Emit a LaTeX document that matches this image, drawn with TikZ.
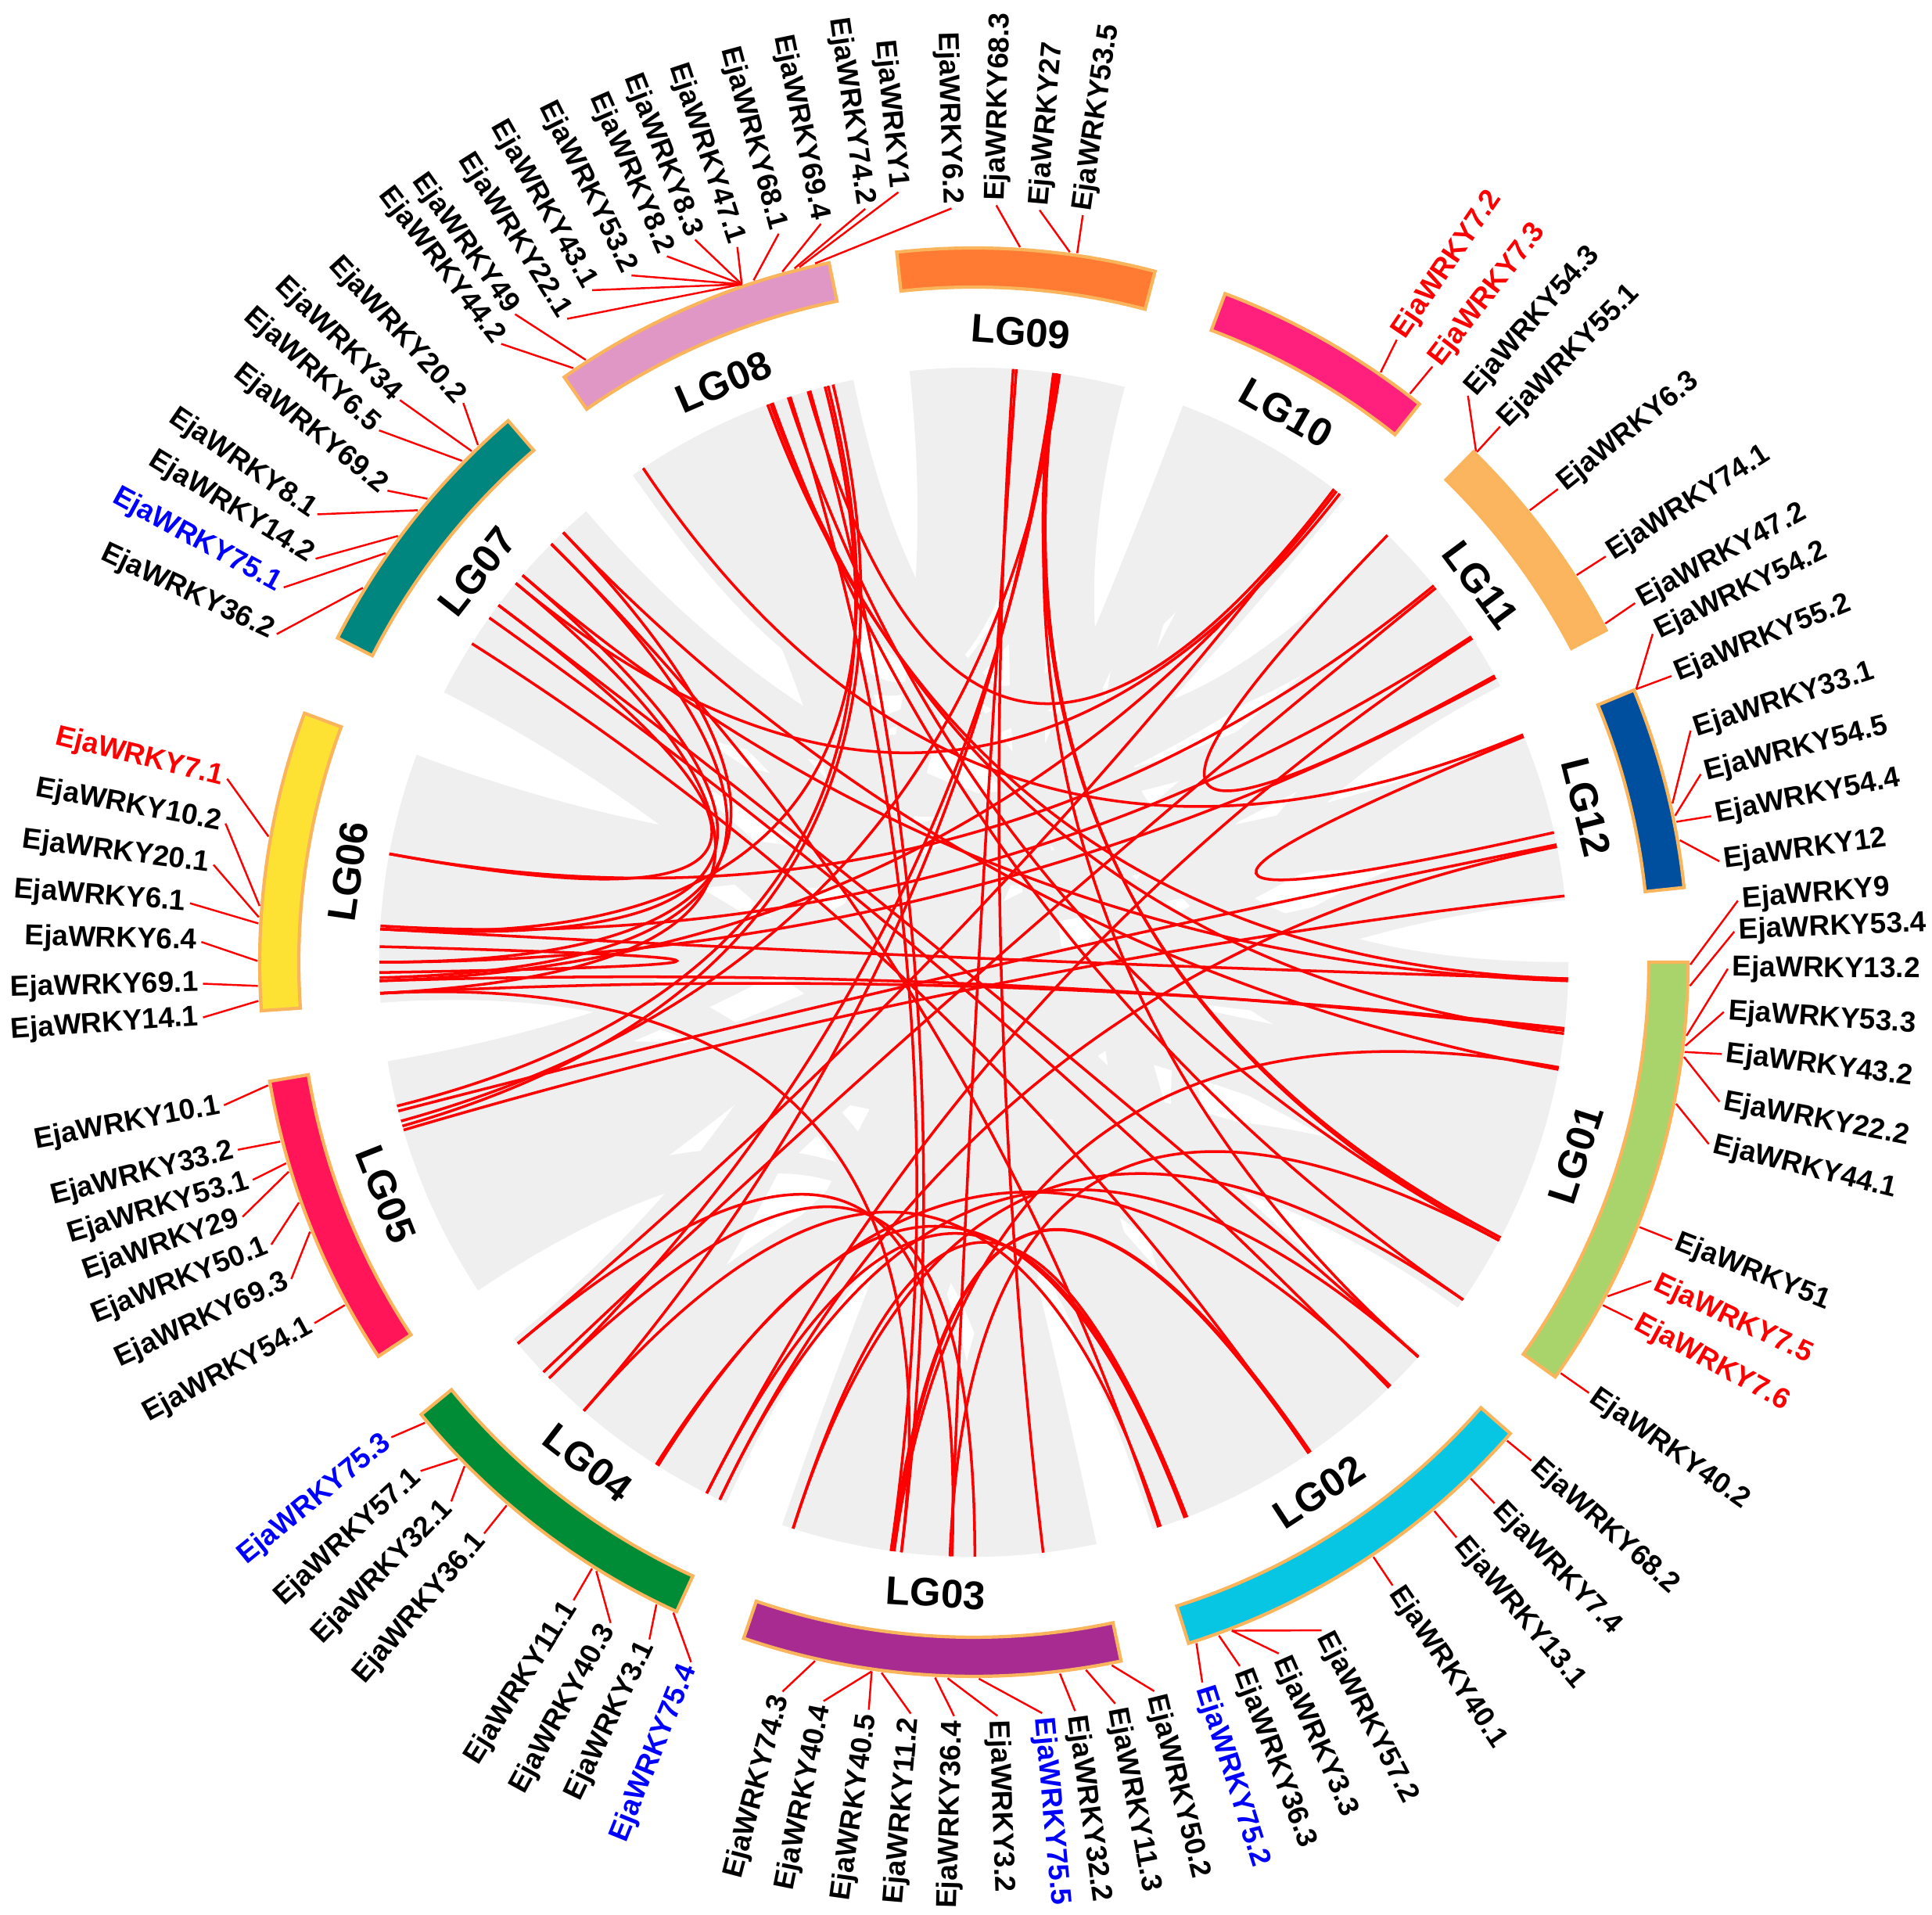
\documentclass[tikz,border=0pt]{standalone}
\usepackage{fontspec}
\setmainfont{Liberation Sans}
\definecolor{rim}{HTML}{FAB45C}
\definecolor{ribbongray}{HTML}{EFEFEF}
\definecolor{cLGa}{HTML}{A9D46B}
\definecolor{cLGb}{HTML}{06C6E3}
\definecolor{cLGc}{HTML}{A72B90}
\definecolor{cLGd}{HTML}{008C36}
\definecolor{cLGe}{HTML}{FF1558}
\definecolor{cLGf}{HTML}{FDE234}
\definecolor{cLGg}{HTML}{00857F}
\definecolor{cLGh}{HTML}{E197C5}
\definecolor{cLGi}{HTML}{FF7A32}
\definecolor{cLGj}{HTML}{FF1F7D}
\definecolor{cLGk}{HTML}{FBB55E}
\definecolor{cLGl}{HTML}{004F9F}
\tikzset{
  chrom/.style={draw=rim, line width=1.2pt},
  ribbon/.style={fill=ribbongray},
  link/.style={draw=red, line width=1pt},
  conn/.style={draw=red, line width=0.7pt},
  genetext/.style={font=\fontsize{10.5}{12}\selectfont\bfseries, inner sep=1.5pt},
  lgtext/.style={font=\fontsize{14.5}{16}\selectfont\bfseries}
}
\begin{document}
\begin{tikzpicture}
\useasboundingbox (0,0) rectangle (24.70,24.48);
\begin{scope}[shift={(12.45,12.18)}]
% grey ribbons
\foreach \pa/\pb/\qa/\qb in {-35.5/-26.6/195.6/201.6, -26.6/-17.8/141.9/147.4, -17.8/-8.9/101.7/107.5,
  -8.9/0/171.8/177.8, -72.5/-64.7/80.5/85.8, -64.7/-56.9/159.6/165.7, -56.9/-49.1/27.7/32.2,
  -49.1/-41.3/130.7/136.3, -108.8/-101.1/55.9/60.4, -101.1/-93.5/113.4/119.2, -93.5/-85.8/10.1/14.2,
  -85.8/-78.1/207.5/213.5, 219.3/225.8/36.7/41.1, 225.8/232.4/91.0/96.2, 232.4/238.9/18.3/22.4,
  238.9/245.4/64.9/69.4, 189.6/195.6/51.4/55.9, 201.6/207.5/6.0/10.1, 165.7/171.8/41.1/45.6,
  177.8/183.9/14.2/18.3, 136.3/141.9/75.3/80.5, 147.4/153.0/32.2/36.7, 107.5/113.4/60.4/64.9,
  119.2/125.0/85.8/91.0,
  -35.5/-23.7/228.0/236.7, -23.7/-11.8/167.7/175.8, -11.8/0/75.3/82.3, -72.5/-62.1/145.6/153.0,
  -62.1/-51.7/63.4/69.4, -51.7/-41.3/189.6/197.6, -108.8/-98.6/33.7/39.6, -98.6/-88.3/175.8/183.9,
  -88.3/-78.1/109.5/117.2, 219.3/228.0/89.2/96.2, 236.7/245.4/6.0/11.5, 197.6/205.5/27.7/33.7,
  205.5/213.5/51.4/57.4, 159.6/167.7/16.9/22.4, 130.7/138.1/11.5/16.9, 138.1/145.6/57.4/63.4,
  101.7/109.5/39.6/45.6, 117.2/125.0/82.3/89.2}
  \fill[ribbon] (\pa:7.6) arc[start angle=\pa, end angle=\pb, radius=7.6]
    .. controls (\pb:2.53) and (\qa:2.53) .. (\qa:7.6)
    arc[start angle=\qa, end angle=\qb, radius=7.6]
    .. controls (\qb:2.53) and (\pa:2.53) .. cycle;
% red links
\foreach \p/\q in {110.3/-1.6, 110.0/-6.9, 109.8/-34.6, 108.2/-27.9, 108.0/262.0, 106.0/263.0,
  104.5/194.0, 103.7/196.0, 104.2/176.8, 123.8/22.5, 106.2/52.7,
  86.2/-83.3, 85.9/267.8, 82.2/229.0, 81.9/224.4, 82.0/-41.6, 81.7/195.5, 82.0/-27.9, 82.3/-27.6,
  52.7/219.9, 52.4/181.8, 52.0/140.4,
  45.9/28.8, 39.3/169.5, 39.0/223.6, 33.2/176.5, 33.0/243.3, 28.6/180.0,
  22.3/12.6, 11.4/194.5, 11.2/244.7, 6.4/196.4,
  -1.6/176.8, -1.8/139.4, -6.6/181.8, -6.4/183.0, -10.4/133.7, -10.2/262.3, -27.9/267.7, -34.6/252.3,
  -41.6/143.1, -45.7/144.6, -45.5/237.7, -55.7/147.6, -55.5/262.0, -69.0/243.3, -69.2/237.9,
  -71.9/135.3, -71.7/229.0,
  270.1/224.4, 267.9/219.9, 263.0/183.0,
  133.7/180.0, 135.3/181.5, 139.4/176.8, 140.4/183.0, 143.1/169.5,
  178.5/181.0, 262.2/-55.7, 252.3/-69.0, 244.7/-41.6}
  \draw[link] (\p:7.6) .. controls (\p:2.53) and (\q:2.53) .. (\q:7.6);
% chromosomes
\foreach \s/\e/\col/\nm [count=\k] in {-35.5/0/cLGa/LG01, -72.5/-41.3/cLGb/LG02, -108.8/-78.1/cLGc/LG03,
  219.3/245.4/cLGd/LG04, 189.6/213.5/cLGe/LG05, 159.6/183.9/cLGf/LG06, 130.7/153.0/cLGg/LG07,
  101.7/125.0/cLGh/LG08, 75.3/96.2/cLGi/LG09, 51.4/69.4/cLGj/LG10, 27.7/45.6/cLGk/LG11, 6.0/22.4/cLGl/LG12}{
  \filldraw[chrom, fill=\col] (\s:8.63) arc[start angle=\s, end angle=\e, radius=8.63]
    -- (\e:9.13) arc[start angle=\e, end angle=\s, radius=9.13] -- cycle;
  \pgfmathsetmacro\mid{(\s+\e)/2}
  \pgfmathsetmacro\rot{(\mid>0)&&(\mid<180) ? \mid-90 : \mid+90}
  \node[lgtext, rotate=\rot] (lg\k) at (\mid:8.08) {\nm};
}
% gene labels
\foreach \ga/\la/\r/\txt/\col [count=\i] in {
  124.0/127.4/9.95/EjaWRKY44.2/black, 122.8/125.3/10.15/EjaWRKY49/black,
  108.9/122.3/9.73/EjaWRKY22.1/black, 108.9/119.6/9.88/EjaWRKY43.1/black,
  108.9/116.5/9.81/EjaWRKY53.2/black, 108.9/113.5/9.84/EjaWRKY8.2/black,
  108.9/111.1/9.90/EjaWRKY8.3/black, 108.9/108.3/9.63/EjaWRKY47.1/black,
  107.9/105.0/9.64/EjaWRKY68.1/black, 105.5/101.7/9.64/EjaWRKY69.4/black,
  104.5/98.2/9.73/EjaWRKY74.2/black, 104.1/95.6/9.89/EjaWRKY1/black,
  102.8/91.7/9.64/EjaWRKY6.2/black,
  86.3/88.3/9.68/EjaWRKY68.3/black, 82.3/85.0/9.65/EjaWRKY27/black, 81.7/81.7/9.65/EjaWRKY53.5/black,
  55.4/55.8/9.62/EjaWRKY7.2/red, 52.5/52.4/9.61/EjaWRKY7.3/red,
  45.5/48.9/9.61/EjaWRKY54.3/black, 45.4/45.5/9.60/EjaWRKY55.1/black,
  39.1/39.0/9.61/EjaWRKY6.3/black, 32.7/32.7/9.60/EjaWRKY74.1/black,
  28.2/28.5/9.62/EjaWRKY47.2/black,
  22.4/25.8/9.64/EjaWRKY54.2/black, 22.4/22.3/9.64/EjaWRKY55.2/black,
  12.8/17.9/9.63/EjaWRKY33.1/black, 11.8/14.5/9.60/EjaWRKY54.5/black,
  11.3/11.2/9.61/EjaWRKY54.4/black, 9.8/7.7/9.62/EjaWRKY12/black,
  -0.2/4.6/9.80/EjaWRKY9/black, -1.9/2.3/9.73/EjaWRKY53.4/black,
  -5.9/-0.5/9.64/EjaWRKY13.2/black, -6.7/-3.8/9.61/EjaWRKY53.3/black,
  -7.2/-7.0/9.63/EjaWRKY43.2/black, -7.6/-10.6/9.70/EjaWRKY22.2/black,
  -11.4/-13.9/9.68/EjaWRKY44.1/black, -21.7/-21.7/9.61/EjaWRKY51/black,
  -27.8/-25.2/9.57/EjaWRKY7.5/red, -28.6/-28.5/9.58/EjaWRKY7.6/red,
  -35.0/-35.0/9.60/EjaWRKY40.2/black,
  -41.9/-41.8/9.56/EjaWRKY68.2/black, -46.1/-46.1/9.60/EjaWRKY7.4/black,
  -50.0/-50.0/9.60/EjaWRKY13.1/black, -56.1/-56.1/9.60/EjaWRKY40.1/black,
  -68.9/-62.5/9.63/EjaWRKY57.2/black, -68.9/-66.2/9.66/EjaWRKY3.3/black,
  -70.0/-69.3/9.62/EjaWRKY36.3/black, -71.9/-72.4/9.66/EjaWRKY75.2/blue,
  257.2/255.3/9.64/EjaWRKY74.3/black, 261.8/258.5/9.64/EjaWRKY40.4/black,
  261.8/262.0/9.65/EjaWRKY40.5/black, 262.6/265.2/9.64/EjaWRKY11.2/black,
  266.9/268.5/9.64/EjaWRKY36.4/black, -92.1/-88.2/9.64/EjaWRKY3.2/black,
  -89.6/-84.8/9.64/EjaWRKY75.5/blue, -83.1/-82.3/9.66/EjaWRKY32.2/black,
  -81.0/-79.2/9.65/EjaWRKY11.3/black, -78.9/-76.1/9.60/EjaWRKY50.2/black,
  220.0/219.2/9.61/EjaWRKY75.3/blue, 223.9/222.6/9.61/EjaWRKY57.1/black,
  224.7/225.9/9.60/EjaWRKY32.1/black, 229.3/229.4/9.62/EjaWRKY36.1/black,
  237.8/237.9/9.63/EjaWRKY11.1/black, 238.2/241.2/9.64/EjaWRKY40.3/black,
  243.7/244.4/9.60/EjaWRKY3.1/black, 245.2/248.0/9.65/EjaWRKY75.4/blue,
  189.9/190.8/9.76/EjaWRKY10.1/black, 194.5/194.3/9.71/EjaWRKY33.2/black,
  196.3/196.8/9.63/EjaWRKY53.1/black, 197.0/199.2/9.90/EjaWRKY29/black,
  199.6/201.9/9.68/EjaWRKY50.1/black, 202.1/204.9/9.62/EjaWRKY69.3/black,
  208.6/208.7/9.61/EjaWRKY54.1/black,
  169.9/166.2/9.83/EjaWRKY7.1/red, 175.5/169.5/9.73/EjaWRKY10.2/black,
  176.4/172.7/9.80/EjaWRKY20.1/black, 176.9/175.7/10.05/EjaWRKY6.1/black,
  179.9/178.5/9.88/EjaWRKY6.4/black, 181.9/181.6/9.86/EjaWRKY69.1/black,
  183.1/184.1/9.88/EjaWRKY14.1/black,
  133.8/132.4/9.68/EjaWRKY20.2/black, 134.5/135.6/10.27/EjaWRKY34/black,
  135.6/138.2/10.20/EjaWRKY6.5/black, 139.7/141.2/9.62/EjaWRKY69.2/black,
  140.9/145.7/10.16/EjaWRKY8.1/black, 143.5/148.5/9.87/EjaWRKY14.2/black,
  145.2/151.5/10.04/EjaWRKY75.1/blue, 148.5/154.8/9.85/EjaWRKY36.2/black}{
  \pgfmathtruncatemacro\lft{(\la>90)&&(\la<270) ? 1 : 0}
  \ifnum\lft=1 \pgfmathsetmacro\rot{\la-180}\def\anc{east}\else\pgfmathsetmacro\rot{\la}\def\anc{west}\fi
  \coordinate (g\i) at (\ga:9.16);
  \node[genetext, text=\col, anchor=\anc, rotate=\rot] (t\i) at (\la:\r) {\txt};
  \draw[conn] (g\i) -- (t\i.\anc);
}
\end{scope}
\end{tikzpicture}
\end{document}
